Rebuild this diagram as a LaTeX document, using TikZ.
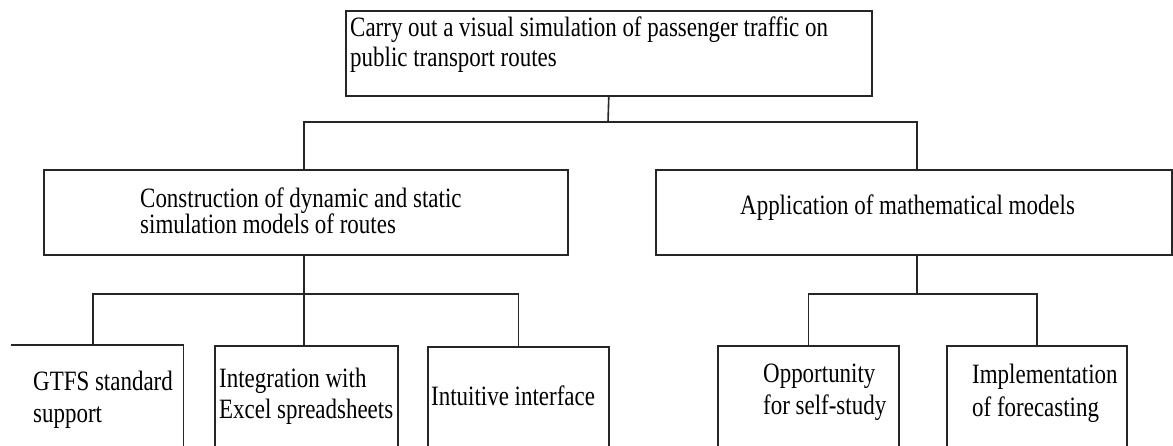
\documentclass[tikz,border=0pt]{standalone}
\usepackage{fontspec}
\setmainfont{Liberation Serif}[FakeStretch=0.82]
\begin{document}
\begin{tikzpicture}[x=1pt,y=-1pt,
  box/.style={draw=black!85, line width=1.6pt, inner sep=0pt, anchor=north west},
  conn/.style={draw=black!85, line width=1.6pt},
  txt/.style={anchor=base west, inner sep=0pt, font=\fontsize{28}{32}\selectfont}]
\useasboundingbox (0,0) rectangle (1173,446);
\clip (0,0) rectangle (1173,446);
% boxes
\node[box, minimum width=526pt, minimum height=85pt] (top) at (345,10) {};
\node[box, minimum width=524pt, minimum height=85pt] (cons) at (43,169) {};
\node[box, minimum width=516pt, minimum height=85pt] (app) at (655,169) {};
\node[inner sep=0pt, anchor=north west, minimum width=172pt, minimum height=130pt] (gtfs) at (11,345) {};
\draw[conn] (gtfs.north west) -- (gtfs.north east) -- (gtfs.south east);
\node[box, minimum width=183pt, minimum height=130pt] (integ) at (214,345) {};
\node[box, minimum width=181pt, minimum height=130pt] (intui) at (427,346) {};
\node[box, minimum width=181pt, minimum height=130pt] (oppo) at (717,345) {};
\node[box, minimum width=180pt, minimum height=130pt] (impl) at (946,345) {};
% texts
\node[txt] (t1a) at (350,37) {Carry out a visual simulation of passenger traffic on};
\node[txt] (t1b) at (350,67) {public transport routes};
\node[txt] (t2a) at (140,208) {Construction of dynamic and static};
\node[txt] (t2b) at (140,234) {simulation models of routes};
\node[txt] (t3) at (740,215) {Application of mathematical models};
\node[txt] (t4a) at (33,390) {GTFS standard};
\node[txt] (t4b) at (33,422) {support};
\node[txt] (t5a) at (219,387) {Integration with};
\node[txt] (t5b) at (219,418) {Excel spreadsheets};
\node[txt] (t6) at (431,405) {Intuitive interface};
\node[txt] (t7a) at (763,382) {Opportunity};
\node[txt] (t7b) at (763,414) {for self-study};
\node[txt] (t8a) at (972,383) {Implementation};
\node[txt] (t8b) at (972,416) {of forecasting};
% connectors
\coordinate (j1) at (608,122);
\coordinate (j2) at (304,294);
\coordinate (j3) at (917,294);
\coordinate (appx) at (917,0);
\coordinate (gtfsx) at (93,0);
\draw[conn] (top.south) -- (j1);
\draw[conn] (cons.north -| j2) |- (j1) -| (app.north -| appx);
\draw[conn] (cons.south -| j2) -- (j2);
\draw[conn] (gtfs.north -| gtfsx) |- (j2) -| (intui.north);
\draw[conn] (integ.north -| j2) -- (j2);
\draw[conn] (app.south -| appx) -- (j3);
\draw[conn] (oppo.north) |- (j3) -| (impl.north);
\end{tikzpicture}
\end{document}
